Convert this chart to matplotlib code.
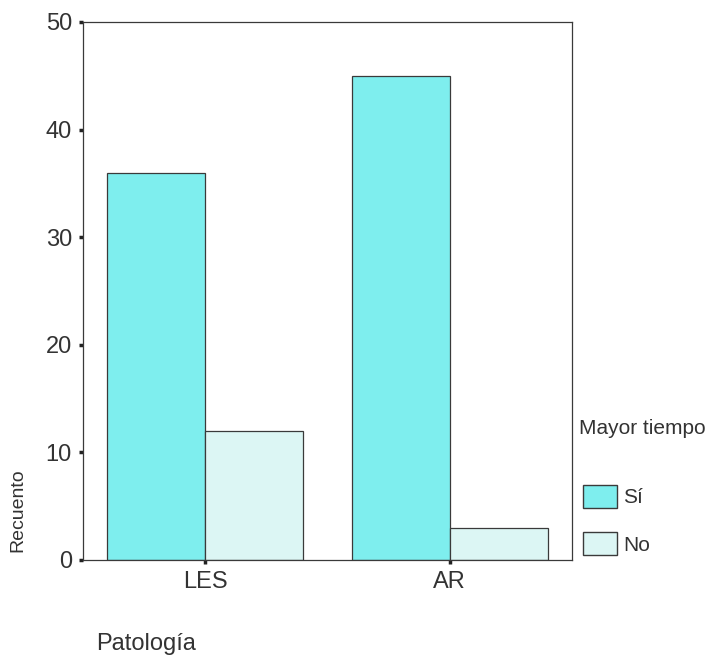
import matplotlib.pyplot as plt
import numpy as np
from matplotlib.patches import Patch

plt.rcParams['font.family'] = ['Liberation Sans', 'DejaVu Sans']

# datos
categorias = ["LES", "AR"]
si_vals = [36, 45]
no_vals = [12, 3]
series_labels = ["Sí", "No"]
yticks = [0, 10, 20, 30, 40, 50]

col_si = "#7eeeee"
col_no = "#dcf6f4"
edge = "#3a3a3a"

fig = plt.figure(figsize=(7.09, 6.59), dpi=100)
W, H = 709, 659
ax = fig.add_axes([83 / W, 1 - 560 / H, (572 - 83) / W, (560 - 22) / H])

x = np.arange(len(categorias))
w = 0.4
ax.bar(x - w / 2, si_vals, w, color=col_si, edgecolor=edge, linewidth=0.9)
ax.bar(x + w / 2, no_vals, w, color=col_no, edgecolor=edge, linewidth=0.9)

ax.set_xlim(-0.5, 1.5)
ax.set_ylim(0, 50)
ax.set_yticks(yticks)
ax.set_xticks(x)
ax.set_xticklabels(categorias)
for s in ax.spines.values():
    s.set_color(edge)
    s.set_linewidth(0.9)
ax.tick_params(axis="both", direction="out", length=3, width=2.5, color="#222222",
               labelsize=17, labelcolor="#333333", pad=5)

fig.text(18 / W, 1 - 510 / H, "Recuento", rotation=90, ha="center", va="center",
         fontsize=14, color="#333333")
fig.text(96 / W, 1 - 650 / H, "Patología", ha="left", va="baseline",
         fontsize=17, color="#333333")

fig.text(579 / W, 1 - 428 / H, "Mayor tiempo", ha="left", va="center",
         fontsize=15, color="#333333")
handles = [Patch(facecolor=col_si, edgecolor=edge, label=series_labels[0]),
           Patch(facecolor=col_no, edgecolor=edge, label=series_labels[1])]
fig.legend(handles=handles, loc="upper left", bbox_to_anchor=(566 / W, 1 - 468 / H),
           frameon=False, fontsize=15, handlelength=1.65, handleheight=1.35,
           labelspacing=1.15, handletextpad=0.3, borderpad=0.3, labelcolor="#333333")

fig.savefig("out.png", dpi=100)
